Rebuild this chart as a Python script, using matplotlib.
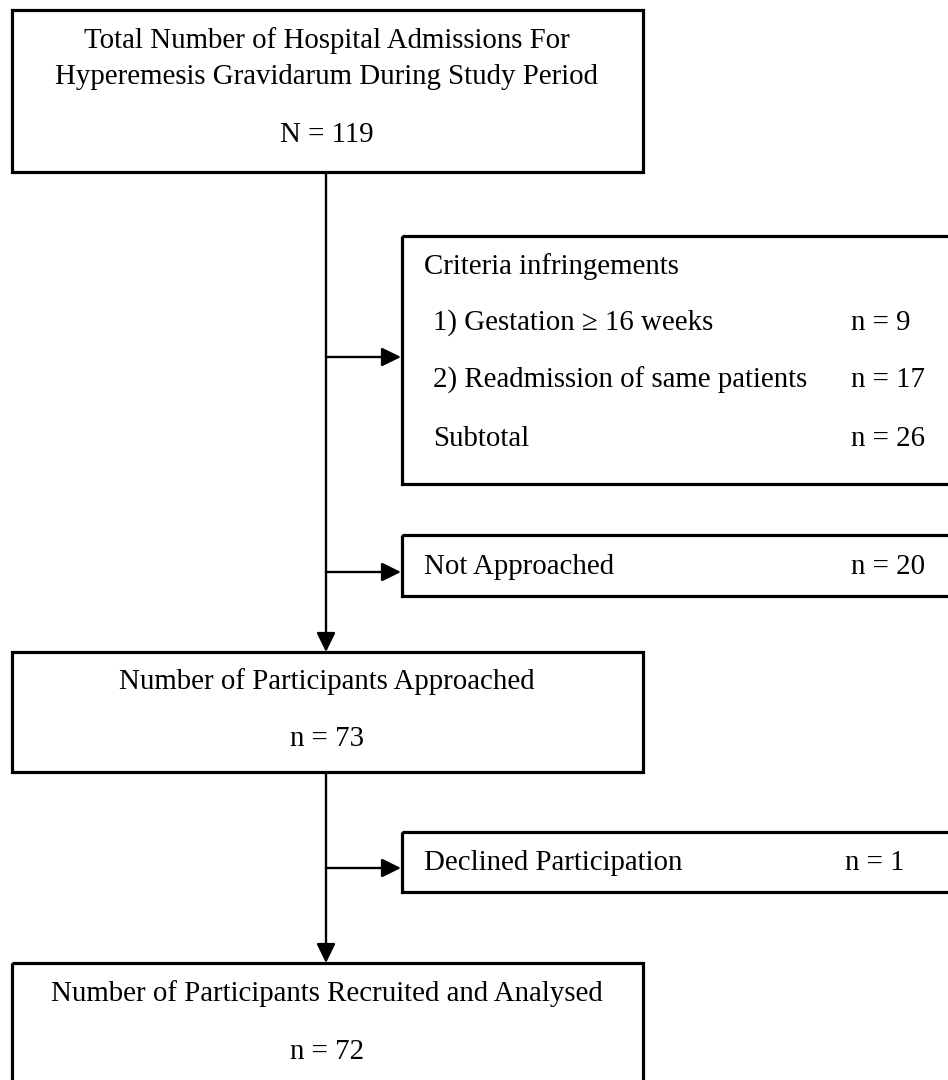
import matplotlib
matplotlib.use("Agg")
import matplotlib.pyplot as plt
from matplotlib.patches import Rectangle

# counts in the flow
total_admissions = 119
excl_labels = ["1) Gestation \u2265 16 weeks", "2) Readmission of same patients", "Subtotal"]
excl_counts = [9, 17, 26]
not_approached = 20
approached = 73
declined = 1
recruited = 72

main_titles = [
    ["Total Number of Hospital Admissions For", "Hyperemesis Gravidarum During Study Period"],
    ["Number of Participants Approached"],
    ["Number of Participants Recruited and Analysed"],
]
main_counts = ["N = %d" % total_admissions, "n = %d" % approached, "n = %d" % recruited]

plt.rcParams['font.family'] = ['Liberation Serif', 'DejaVu Serif']
FS = 20.8
DY = 2  # small nudge so text sits like the reference

fig = plt.figure(figsize=(9.48, 10.8), dpi=100)
ax = fig.add_axes([0, 0, 1, 1])
ax.set_xlim(0, 948)
ax.set_ylim(1080, 0)
ax.axis('off')

def box(x0, y0, x1, y1):
    ax.add_patch(Rectangle((x0, y0), x1 - x0, y1 - y0, fill=False,
                           edgecolor='black', lw=2.3, clip_on=False))

def label(x, y, s, ha='left'):
    ax.text(x, y + DY, s, ha=ha, va='center', fontsize=FS)

def arrow(x0, y0, x1, y1):
    ax.annotate('', xy=(x1, y1), xytext=(x0, y0),
                arrowprops=dict(arrowstyle='-|>,head_length=0.45,head_width=0.22',
                                mutation_scale=26, lw=1.7, color='black',
                                shrinkA=0, shrinkB=0))

cx = 327
# main boxes
box(12, 10, 643, 172)
box(12, 652, 643, 772)
box(12, 963, 643, 1100)

label(cx, 39, main_titles[0][0], 'center')
label(cx, 75, main_titles[0][1], 'center')
label(cx, 133, main_counts[0], 'center')
label(cx, 680, main_titles[1][0], 'center')
label(cx, 737, main_counts[1], 'center')
label(cx, 992, main_titles[2][0], 'center')
label(cx, 1050, main_counts[2], 'center')

# side boxes
box(402, 236, 1000, 484)
label(424, 265, "Criteria infringements")
for lab, n, y in zip(excl_labels, excl_counts, [321, 378, 437]):
    label(433, y, lab)
    label(851, y, "n = %d" % n)

box(402, 535, 1000, 596)
label(424, 565, "Not Approached")
label(851, 565, "n = %d" % not_approached)

box(402, 832, 1000, 892)
label(424, 861, "Declined Participation")
label(845, 861, "n = %d" % declined)

# connectors
arrow(326, 172, 326, 652)
arrow(326, 357, 401, 357)
arrow(326, 572, 401, 572)
arrow(326, 772, 326, 963)
arrow(326, 868, 401, 868)

fig.savefig("out.png", dpi=100)
